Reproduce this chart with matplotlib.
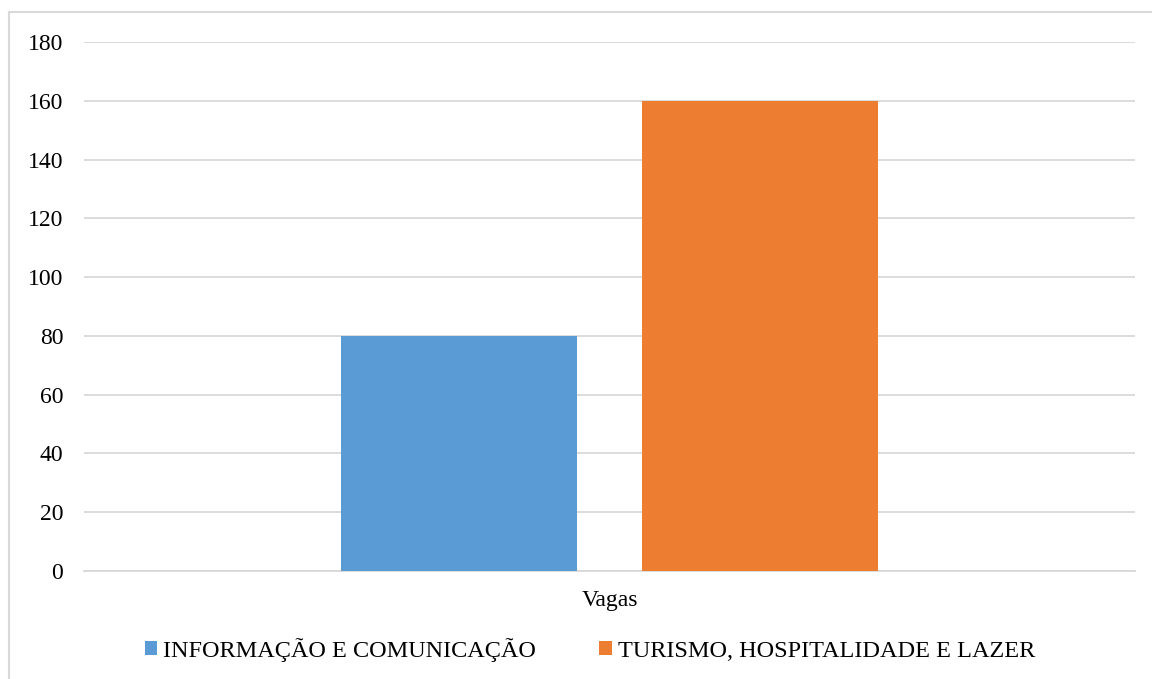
import matplotlib.pyplot as plt

# Dados
categoria = ['Vagas']
series = ['INFORMAÇÃO E COMUNICAÇÃO', 'TURISMO, HOSPITALIDADE E LAZER']
valores = [80, 160]
cores = ['#5b9bd5', '#ed7d31']
yticks = [0, 20, 40, 60, 80, 100, 120, 140, 160, 180]

plt.rcParams['font.family'] = ['Liberation Serif', 'DejaVu Serif']

fig = plt.figure(figsize=(11.52, 6.79), dpi=100)
ax = fig.add_axes([84/1152, 1 - 571/679, (1135 - 84)/1152, (571 - 42)/679])

largura = 0.2245
gap = 0.061
offsets = [-(largura + gap) / 2, (largura + gap) / 2]
for nome, v, c, off in zip(series, valores, cores, offsets):
    ax.bar(off, v, width=largura, color=c, label=nome, zorder=3)

ax.set_xlim(-0.5, 0.5)
ax.set_ylim(0, 180)
ax.set_yticks(yticks)
ax.set_xticks([0])
ax.set_xticklabels(categoria)
ax.tick_params(axis='both', length=0, labelsize=17, colors='black')
ax.tick_params(axis='y', pad=15)
ax.tick_params(axis='x', pad=14)
ax.grid(axis='y', color='#d9d9d9', linewidth=1.3, zorder=0)
for s in ['top', 'right', 'left']:
    ax.spines[s].set_visible(False)
ax.spines['bottom'].set_color('#d9d9d9')
ax.spines['bottom'].set_linewidth(1.3)

# Borda do gráfico
fig.add_artist(plt.Line2D([9/1152, 1], [1 - 12/679, 1 - 12/679], color='#d9d9d9', linewidth=1.5))
fig.add_artist(plt.Line2D([9/1152, 9/1152], [0, 1 - 12/679], color='#d9d9d9', linewidth=1.5))

fig.legend(loc='center', bbox_to_anchor=(590/1152, 1 - 650/679), ncol=2, frameon=False,
           fontsize=17.5, handlelength=0.5, handleheight=0.5, handletextpad=0.25,
           columnspacing=2.6)

fig.savefig('out.png', dpi=100)
plt.close()
